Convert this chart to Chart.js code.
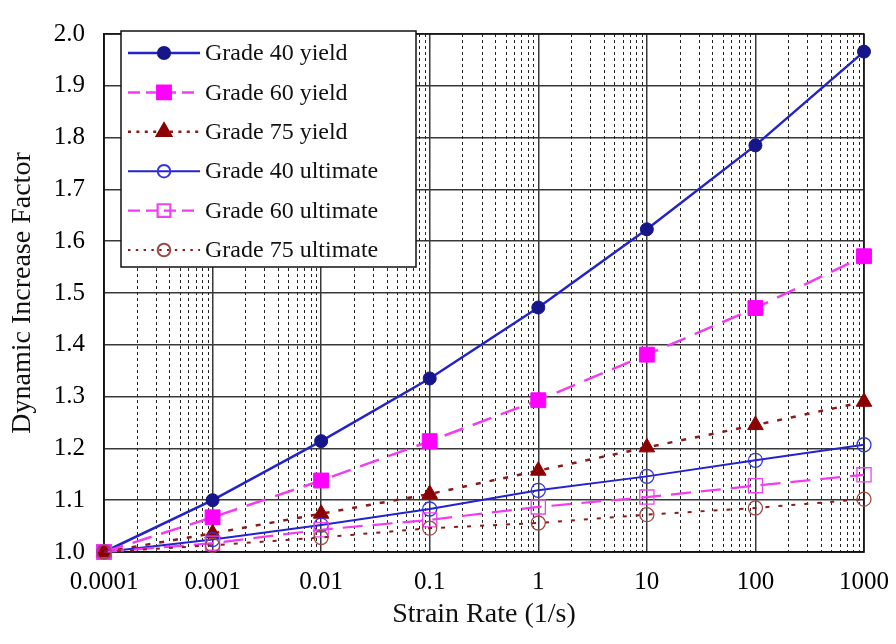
<!DOCTYPE html>
<html>
<head>
<meta charset="utf-8">
<script src="https://cdn.jsdelivr.net/npm/chart.js@4"></script>
<style>
  body { margin: 0; background: #fff; }
  #wrap { width: 896px; height: 644px; position: relative; }
</style>
</head>
<body>
<div id="wrap"><canvas id="difChart"></canvas></div>
<script>
// strain rates (1/s) and dynamic increase factors per grade
var strainRates = [0.0001, 0.001, 0.01, 0.1, 1, 10, 100, 1000];
var xTickLabels = ['0.0001', '0.001', '0.01', '0.1', '1', '10', '100', '1000'];

var g40Yield = [1.00, 1.100, 1.214, 1.335, 1.472, 1.623, 1.785, 1.966];
var g60Yield = [1.00, 1.067, 1.138, 1.214, 1.293, 1.381, 1.471, 1.571];
var g75Yield = [1.00, 1.036, 1.074, 1.112, 1.157, 1.202, 1.245, 1.290];
var g40Ult   = [1.00, 1.024, 1.052, 1.083, 1.119, 1.146, 1.177, 1.207];
var g60Ult   = [1.00, 1.017, 1.043, 1.062, 1.087, 1.106, 1.128, 1.149];
var g75Ult   = [1.00, 1.013, 1.028, 1.046, 1.056, 1.072, 1.085, 1.102];

var seriesNames = ['Grade 40 yield', 'Grade 60 yield', 'Grade 75 yield',
                   'Grade 40 ultimate', 'Grade 60 ultimate', 'Grade 75 ultimate'];

var serif = '"Liberation Serif", "Times New Roman", serif';

function toPoints(values) {
    return values.map((v, i) => ({ x: strainRates[i], y: v }));
}

var setCount = 0;
function makeSet(label, values, style) {
    setCount++;
    return Object.assign({
        label: label,
        data: toPoints(values),
        fill: false,
        tension: 0,
        clip: false,
        order: -setCount,   // later series paint over earlier ones
        pointHoverRadius: 0
    }, style);
}

var datasets = [
    makeSet(seriesNames[0], g40Yield, {
        borderColor: '#2323c8', borderWidth: 2.5,
        pointStyle: 'circle', pointRadius: 6.5,
        pointBackgroundColor: '#16168a', pointBorderColor: '#16168a', pointBorderWidth: 1
    }),
    makeSet(seriesNames[1], g60Yield, {
        borderColor: '#f23cf2', borderWidth: 2.5, borderDash: [20, 10],
        pointStyle: 'rect', pointRadius: 10.5,
        pointBackgroundColor: '#ff00ff', pointBorderColor: '#ff00ff', pointBorderWidth: 1
    }),
    makeSet(seriesNames[2], g75Yield, {
        borderColor: '#8c1a1a', borderWidth: 2.5, borderDash: [5, 9],
        pointStyle: 'triangle', pointRadius: 9,
        pointBackgroundColor: '#8b0000', pointBorderColor: '#8b0000', pointBorderWidth: 1
    }),
    makeSet(seriesNames[3], g40Ult, {
        borderColor: '#2323d0', borderWidth: 2,
        pointStyle: 'circle', pointRadius: 7,
        pointBackgroundColor: 'rgba(0,0,0,0)', pointBorderColor: '#3535e0', pointBorderWidth: 1.3
    }),
    makeSet(seriesNames[4], g60Ult, {
        borderColor: '#f23cf2', borderWidth: 2.2, borderDash: [20, 10],
        pointStyle: 'rect', pointRadius: 10,
        pointBackgroundColor: 'rgba(0,0,0,0)', pointBorderColor: '#ee44ee', pointBorderWidth: 1.3
    }),
    makeSet(seriesNames[5], g75Ult, {
        borderColor: '#8c1a1a', borderWidth: 2, borderDash: [4, 9],
        pointStyle: 'circle', pointRadius: 7,
        pointBackgroundColor: 'rgba(0,0,0,0)', pointBorderColor: '#a04848', pointBorderWidth: 1.3
    })
];

// dotted minor lines at 2..9 inside each decade, plus the frame round the plot
var minorGrid = {
    id: 'minorGrid',
    beforeDatasetsDraw: function (chart) {
        var ctx = chart.ctx, area = chart.chartArea, xs = chart.scales.x;
        ctx.save();
        ctx.strokeStyle = '#222';
        ctx.lineWidth = 1;
        ctx.setLineDash([3, 3]);
        for (var d = -4; d < 3; d++) {
            for (var k = 2; k <= 9; k++) {
                var px = Math.round(xs.getPixelForValue(k * Math.pow(10, d))) + 0.5;
                ctx.beginPath();
                ctx.moveTo(px, area.top);
                ctx.lineTo(px, area.bottom);
                ctx.stroke();
            }
        }
        ctx.setLineDash([]);
        ctx.strokeStyle = '#111';
        ctx.lineWidth = 1.5;
        ctx.strokeRect(area.left, area.top, area.right - area.left, area.bottom - area.top);
        ctx.restore();
    }
};

// boxed legend sitting inside the plot, top left
var boxLegend = {
    id: 'boxLegend',
    afterDraw: function (chart) {
        var ctx = chart.ctx;
        var bx = 121, by = 31, bw = 295, bh = 236;
        var rowY = 53, rowStep = 39.4;
        ctx.save();
        ctx.fillStyle = '#fff';
        ctx.fillRect(bx, by, bw, bh);
        ctx.strokeStyle = '#111';
        ctx.lineWidth = 1.5;
        ctx.strokeRect(bx, by, bw, bh);

        chart.data.datasets.forEach(function (ds, i) {
            var y = rowY + i * rowStep;
            ctx.strokeStyle = ds.borderColor;
            ctx.lineWidth = ds.borderWidth;
            ctx.setLineDash(ds.borderDash ? [ds.borderDash[0] * 0.6, ds.borderDash[1] * 0.6] : []);
            ctx.beginPath();
            ctx.moveTo(128, y);
            ctx.lineTo(200, y);
            ctx.stroke();
            ctx.setLineDash([]);

            ctx.fillStyle = ds.pointBackgroundColor;
            ctx.strokeStyle = ds.pointBorderColor;
            Chart.helpers.drawPoint(ctx, {
                pointStyle: ds.pointStyle,
                radius: ds.pointRadius * 0.9,
                rotation: 0,
                borderWidth: ds.pointBorderWidth
            }, 164, y);

            ctx.fillStyle = '#111';
            ctx.font = '24px ' + serif;
            ctx.textBaseline = 'middle';
            ctx.textAlign = 'left';
            ctx.fillText(ds.label, 205, y + 1);
        });
        ctx.restore();
    }
};

var ctx = document.getElementById('difChart').getContext('2d');
var difChart = new Chart(ctx, {
    type: 'line',
    data: { datasets: datasets },
    options: {
        responsive: true,
        maintainAspectRatio: false,
        animation: false,
        events: [],
        layout: { padding: { top: 15, right: 32, left: 0, bottom: 0 } },
        plugins: {
            legend: { display: false },
            tooltip: { enabled: false }
        },
        scales: {
            x: {
                type: 'logarithmic',
                min: 0.0001,
                max: 1000,
                afterBuildTicks: function (scale) {
                    scale.ticks = strainRates.map(v => ({ value: v, major: true }));
                },
                afterFit: function (scale) {
                    scale.height = 92;
                    scale.paddingLeft = 0;
                    scale.paddingRight = 0;
                },
                ticks: {
                    autoSkip: false,
                    maxRotation: 0,
                    padding: 15,
                    color: '#000',
                    font: { family: serif, size: 25 },
                    callback: function (value, index) { return xTickLabels[index]; }
                },
                grid: { color: '#383838', lineWidth: 1.5, drawTicks: false },
                border: { color: '#111', width: 1.5 },
                title: {
                    display: true,
                    text: 'Strain Rate (1/s)',
                    color: '#111',
                    font: { family: serif, size: 28 },
                    padding: { top: 0, bottom: 13 }
                }
            },
            y: {
                min: 1.0,
                max: 2.0,
                afterFit: function (scale) { scale.width = 104; },
                ticks: {
                    stepSize: 0.1,
                    padding: 19,
                    color: '#000',
                    font: { family: serif, size: 25 },
                    callback: function (value) { return value.toFixed(1); }
                },
                grid: { color: '#383838', lineWidth: 1.5, drawTicks: false },
                border: { color: '#111', width: 1.5 },
                title: {
                    display: true,
                    text: 'Dynamic Increase Factor',
                    color: '#111',
                    font: { family: serif, size: 28 },
                    padding: { top: 6, bottom: 0 }
                }
            }
        }
    },
    plugins: [minorGrid, boxLegend]
});
</script>
</body>
</html>
